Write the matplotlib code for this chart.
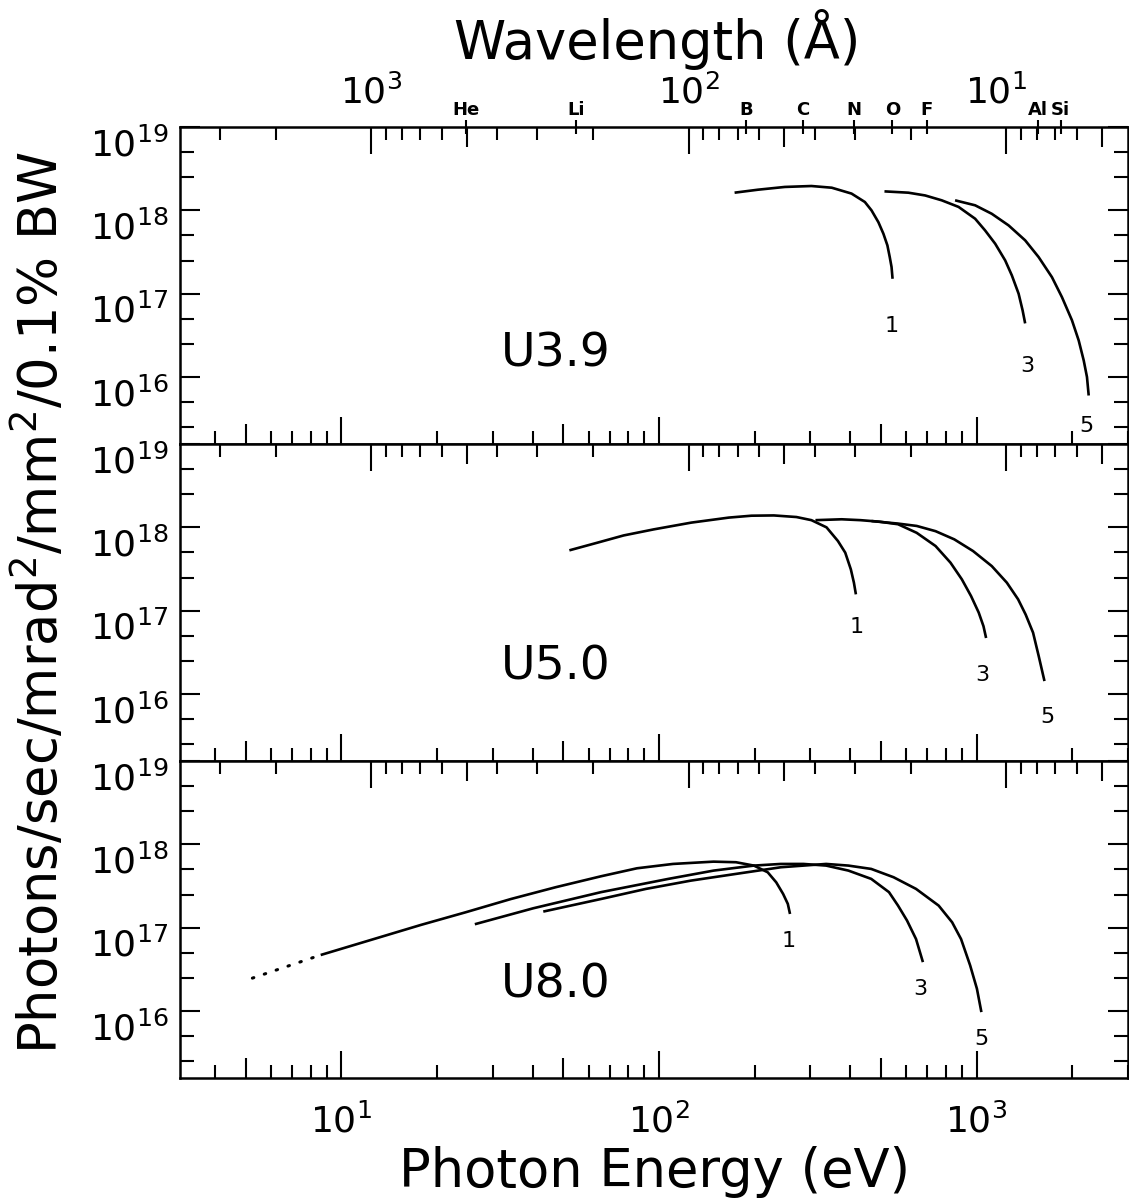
import numpy as np
import matplotlib
matplotlib.use("Agg")
import matplotlib.pyplot as plt
from matplotlib.ticker import FixedLocator, NullFormatter, NullLocator
from matplotlib.transforms import ScaledTranslation

plt.rcParams['font.family'] = ['DejaVu Sans']
plt.rcParams['mathtext.fontset'] = 'dejavusans'

HC = 12398.4  # eV * Angstrom

# ---------------- data (photon energy in eV, brightness) ----------------
# U3.9 panel
u39_h1_E = [173, 205, 249, 302, 350, 404, 445, 467, 491, 509, 524, 533, 540, 544]
u39_h1_F = [1.63e18, 1.77e18, 1.91e18, 1.96e18, 1.87e18, 1.59e18, 1.26e18, 1.0e18,
            7.2e17, 5.25e17, 3.8e17, 2.75e17, 2.09e17, 1.51e17]
u39_h3_E = [513, 610, 689, 777, 878, 990, 1064, 1145, 1231, 1292, 1357, 1397, 1423]
u39_h3_F = [1.69e18, 1.63e18, 1.51e18, 1.32e18, 1.1e18, 7.94e17, 5.75e17, 3.98e17,
            2.51e17, 1.66e17, 1.0e17, 6.3e16, 4.4e16]
u39_h5_E = [856, 990, 1117, 1262, 1423, 1569, 1728, 1858, 1998, 2098, 2176, 2228, 2256]
u39_h5_F = [1.32e18, 1.15e18, 9.1e17, 6.6e17, 4.37e17, 2.75e17, 1.58e17, 9.1e16,
            4.8e16, 2.75e16, 1.58e16, 1.0e16, 6.0e15]

# U5.0 panel
u50_h1_E = [52.2, 64, 77.4, 96.3, 126.4, 166, 195.5, 230, 271, 302, 337, 366, 386, 402, 411, 417]
u50_h1_F = [5.3e17, 6.55e17, 8.0e17, 9.46e17, 1.14e18, 1.31e18, 1.38e18, 1.39e18,
            1.33e18, 1.22e18, 1.0e18, 6.86e17, 4.97e17, 3.13e17, 2.17e17, 1.57e17]
u50_h3_E = [311, 376, 431, 494, 566, 648, 743, 828, 899, 961, 1016, 1052, 1072]
u50_h3_F = [1.22e18, 1.25e18, 1.22e18, 1.17e18, 1.09e18, 8.6e17, 5.97e17, 3.77e17,
            2.38e17, 1.5e17, 9.5e16, 6.5e16, 4.7e16]
u50_h5_E = [467, 566, 648, 743, 851, 975, 1117, 1246, 1352, 1428, 1507, 1570, 1637]
u50_h5_F = [1.19e18, 1.11e18, 1.04e18, 9.0e17, 7.18e17, 5.2e17, 3.43e17, 2.17e17,
            1.37e17, 9.0e16, 5.45e16, 2.85e16, 1.43e16]

# U8.0 panel
u80_h1_dot_E = [5.24, 8.6]
u80_h1_dot_F = [2.48e16, 4.7e16]
u80_h1_E = [8.6, 17.8, 24.6, 34.2, 47.3, 65.7, 85.2, 110.7, 148.5, 174.8, 199, 220,
            234, 246, 254.5, 258.6]
u80_h1_F = [4.7e16, 1.08e17, 1.53e17, 2.21e17, 3.06e17, 4.14e17, 5.16e17, 5.82e17,
            6.2e17, 6.1e17, 5.56e17, 4.62e17, 3.5e17, 2.54e17, 1.93e17, 1.46e17]
u80_h3_E = [26.3, 40.2, 65.7, 107, 148.5, 199, 242, 285, 336, 395, 466, 530, 566,
            604, 645, 678]
u80_h3_F = [1.1e17, 1.71e17, 2.67e17, 3.85e17, 4.84e17, 5.56e17, 5.82e17, 5.82e17,
            5.56e17, 4.84e17, 3.85e17, 2.67e17, 1.84e17, 1.22e17, 7.3e16, 3.86e16]
u80_h5_E = [43.2, 65.7, 91, 126, 174.8, 242, 336, 395, 466, 548, 645, 760, 838, 894,
            955, 1003, 1036]
u80_h5_F = [1.56e17, 2.21e17, 2.92e17, 3.67e17, 4.42e17, 5.31e17, 5.82e17, 5.56e17,
            5.07e17, 4.03e17, 2.92e17, 1.84e17, 1.16e17, 7.3e16, 3.52e16, 1.85e16, 9.7e15]

panel_names = ["U3.9", "U5.0", "U8.0"]
harmonic_names = ["1", "3", "5"]

energy_major = [10, 100, 1000]
energy_major_labels = [r"$10^{1}$", r"$10^{2}$", r"$10^{3}$"]
energy_minor = [4, 6, 7, 8, 9, 20, 30, 40, 60, 70, 80, 90,
                200, 300, 400, 600, 700, 800, 900, 2000, 3000]
energy_medium = [5, 50, 500]

flux_major = [1e16, 1e17, 1e18, 1e19]
flux_major_labels = [r"$10^{16}$", r"$10^{17}$", r"$10^{18}$", r"$10^{19}$"]
flux_minor = [2.5e15, 5e15, 2.5e16, 5e16, 2.5e17, 5e17, 2.5e18, 5e18]

wl_major = [1000, 100, 10]
wl_major_labels = [r"$10^{3}$", r"$10^{2}$", r"$10^{1}$"]
wl_minor = [3000, 2000, 900, 800, 700, 600, 400, 300, 200,
            90, 80, 70, 60, 40, 30, 20, 9, 8, 7, 6]
wl_medium = [500, 50, 5]

element_names = ["He", "Li", "B", "C", "N", "O", "F", "Al", "Si"]
element_edges_eV = [24.6, 54.7, 188, 284, 410, 543, 697, 1560, 1839]

# ---------------- figure ----------------
XLIM = (3.1, 3000)
YLIM = (1.57e15, 1e19)

fig = plt.figure(figsize=(11.29, 12.03), dpi=100)
left, width, height = 180 / 1129, 948 / 1129, 0.2635
bottoms = [0.6309, 0.3674, 0.1039]

panels = [
    [(u39_h1_E, u39_h1_F), (u39_h3_E, u39_h3_F), (u39_h5_E, u39_h5_F)],
    [(u50_h1_E, u50_h1_F), (u50_h3_E, u50_h3_F), (u50_h5_E, u50_h5_F)],
    [(u80_h1_E, u80_h1_F), (u80_h3_E, u80_h3_F), (u80_h5_E, u80_h5_F)],
]
# label offsets (pixels) from each curve's end point
label_offsets = [
    [(-1, -47), (2, -43), (-2, -30)],
    [(1, -33), (-4, -37), (3, -36)],
    [(-1, -27), (-3, -27), (0, -27)],
]
name_pos = [(0.396, 0.283), (0.396, 0.297), (0.396, 0.294)]

PX = 72.0 / 100.0  # points per pixel
LW = 1.9
TW = 1.5
TICKFS = 26

for i, b in enumerate(bottoms):
    ax = fig.add_axes([left, b, width, height])
    ax.set_xscale('log')
    ax.set_yscale('log')
    ax.set_xlim(*XLIM)
    ax.set_ylim(*YLIM)

    for (E, F) in panels[i]:
        ax.plot(E, F, color='black', lw=LW, solid_capstyle='butt',
                solid_joinstyle='round')
    if i == 2:
        ax.plot(u80_h1_dot_E, u80_h1_dot_F, color='black', lw=2.2,
                linestyle=(0, (0.5, 3.6)), dash_capstyle='round')

    for (E, F), name, (dx, dy) in zip(panels[i], harmonic_names, label_offsets[i]):
        ax.annotate(name, xy=(E[-1], F[-1]), xytext=(dx * PX, dy * PX),
                    textcoords='offset points', ha='center', va='center',
                    fontsize=16)
    ax.text(name_pos[i][0], name_pos[i][1], panel_names[i], transform=ax.transAxes,
            ha='center', va='center', fontsize=34)

    # energy axis (bottom)
    ax.xaxis.set_major_locator(FixedLocator(energy_major))
    ax.xaxis.set_minor_locator(FixedLocator(energy_minor))
    ax.xaxis.set_minor_formatter(NullFormatter())
    if i == 2:
        ax.set_xticks(energy_major, labels=energy_major_labels)
    else:
        ax.xaxis.set_major_formatter(NullFormatter())
    ax.tick_params(axis='x', which='major', direction='in', length=27 * PX, width=TW,
                   bottom=True, top=False, labelsize=TICKFS, pad=18)
    ax.tick_params(axis='x', which='minor', direction='in', length=13 * PX, width=TW,
                   bottom=True, top=False)

    # flux axis
    ax.yaxis.set_major_locator(FixedLocator(flux_major))
    ax.yaxis.set_minor_locator(FixedLocator(flux_minor))
    ax.yaxis.set_major_formatter(NullFormatter())
    ax.yaxis.set_minor_formatter(NullFormatter())
    ax.tick_params(axis='y', which='major', direction='in', length=20 * PX, width=TW,
                   left=True, right=True, labelleft=False)
    ax.tick_params(axis='y', which='minor', direction='in', length=14 * PX, width=TW,
                   left=True, right=True)
    for v, lab in zip(flux_major, flux_major_labels):
        ax.annotate(lab, xy=(0, v), xycoords=('axes fraction', 'data'),
                    xytext=(-8, 0), textcoords='offset points',
                    ha='right', va='top', fontsize=TICKFS, annotation_clip=False)
    for sp in ax.spines.values():
        sp.set_linewidth(1.8)

    # wavelength axis (top)
    axw = ax.twiny()
    axw.set_xscale('log')
    axw.set_xlim(HC / XLIM[0], HC / XLIM[1])
    axw.xaxis.set_major_locator(FixedLocator(wl_major))
    axw.xaxis.set_minor_locator(FixedLocator(wl_minor))
    axw.xaxis.set_minor_formatter(NullFormatter())
    if i == 0:
        axw.set_xticks(wl_major, labels=wl_major_labels)
    else:
        axw.xaxis.set_major_formatter(NullFormatter())
    axw.tick_params(axis='x', which='major', direction='in', length=27 * PX, width=TW,
                    top=True, bottom=False, labeltop=(i == 0), labelsize=TICKFS, pad=12)
    axw.tick_params(axis='x', which='minor', direction='in', length=13 * PX, width=TW,
                    top=True, bottom=False)
    if i == 0:
        # nudge the 10^1 label left so it sits beside the Al mark
        lbl = axw.xaxis.get_major_ticks()[2].label2
        lbl.set_transform(lbl.get_transform() +
                          ScaledTranslation(-10 / 100, 0, fig.dpi_scale_trans))
    for sp in axw.spines.values():
        sp.set_visible(False)

    # medium ticks: energy 5/50/500 at bottom, wavelength 500/50/5 at top
    axm = ax.twiny()
    axm.set_xscale('log')
    axm.set_xlim(*XLIM)
    axm.xaxis.set_major_locator(FixedLocator(energy_medium))
    axm.xaxis.set_minor_locator(FixedLocator([HC / w for w in wl_medium]))
    axm.xaxis.set_major_formatter(NullFormatter())
    axm.xaxis.set_minor_formatter(NullFormatter())
    axm.tick_params(axis='x', which='major', direction='in', length=20 * PX, width=TW,
                    bottom=True, top=False, labelbottom=False, labeltop=False)
    axm.tick_params(axis='x', which='minor', direction='in', length=20 * PX, width=TW,
                    bottom=False, top=True, labelbottom=False, labeltop=False)
    for sp in axm.spines.values():
        sp.set_visible(False)

    if i == 0:
        axe = ax.twiny()
        axe.set_xscale('log')
        axe.set_xlim(*XLIM)
        axe.set_xticks(element_edges_eV, labels=element_names)
        axe.xaxis.set_minor_locator(NullLocator())
        axe.tick_params(axis='x', which='major', direction='inout', length=14 * PX,
                        width=TW, top=True, bottom=False, labeltop=True,
                        labelsize=13, pad=1)
        for lbl in axe.get_xticklabels():
            lbl.set_fontweight('bold')
        for sp in axe.spines.values():
            sp.set_visible(False)

fig.text(40 / 1129, 0.4996, "Photons/sec/mrad$^2$/mm$^2$/0.1% BW", rotation=90,
         ha='center', va='center', fontsize=38)
fig.text(655 / 1129, 1 - 1172 / 1203, "Photon Energy (eV)", ha='center', va='center',
         fontsize=38)
fig.text(657 / 1129, 1 - 40 / 1203, "Wavelength (Å)", ha='center', va='center',
         fontsize=38)

fig.savefig("out.png", dpi=100)
